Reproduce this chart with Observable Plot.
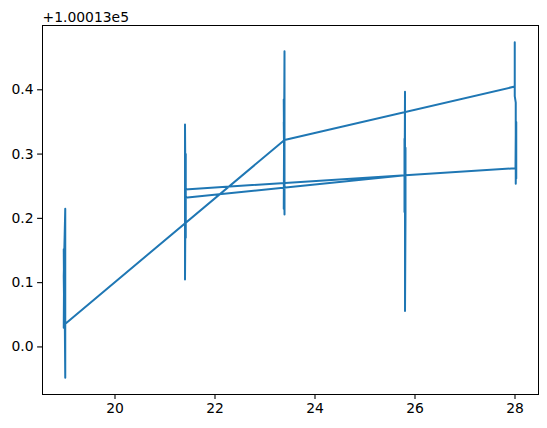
<!DOCTYPE html>
<html>
<head>
<meta charset="utf-8">
<script src="https://cdn.jsdelivr.net/npm/d3@7"></script>
<script src="https://cdn.jsdelivr.net/npm/@observablehq/plot@0.6"></script>
<style>
  html, body { margin: 0; padding: 0; background: white; }
  #chart svg { display: block; }
</style>
</head>
<body>
<div id="chart"></div>
<script>
// Offset label (matplotlib-style): values shown are value - 100013
const offsetLabel = "+1.00013e5";
const xTicks = [20, 22, 24, 26, 28];
const yTicks = [0.0, 0.1, 0.2, 0.3, 0.4];

// Path of the series in drawing order (x, y offset from 100013)
const xs = [
  18.985, 18.975, 18.985, 18.975, 19.005, 19.005, 18.985, 18.975, 18.985, 18.99,
  23.39, 23.39, 23.375, 23.39, 23.39, 23.375, 23.39, 23.375, 23.39,
  27.995, 27.995, 27.995, 28.015, 28.015, 28.025, 28.025, 28.015, 28.01,
  21.4, 21.415, 21.415, 21.4, 21.4, 21.415, 21.4, 21.415, 21.4,
  25.8, 25.79, 25.79, 25.8, 25.8, 25.81, 25.81, 25.8
];
const ys = [
  0.083, 0.152, 0.045, 0.110, 0.215, -0.048, 0.150, 0.030, 0.090, 0.035,
  0.322, 0.410, 0.215, 0.460, 0.206, 0.385, 0.250, 0.350, 0.322,
  0.405, 0.474, 0.390, 0.380, 0.254, 0.350, 0.262, 0.330, 0.278,
  0.245, 0.300, 0.170, 0.346, 0.105, 0.290, 0.175, 0.260, 0.232,
  0.267, 0.324, 0.210, 0.397, 0.056, 0.206, 0.310, 0.280
];

const points = xs.map((x, i) => ({x, y: ys[i], i}));

const plot = Plot.plot({
  width: 547,
  height: 428,
  marginLeft: 42,
  marginRight: 9,
  marginTop: 25,
  marginBottom: 34,
  style: {fontFamily: "DejaVu Sans", fontSize: "13.9px", color: "black", background: "white"},
  x: {domain: [18.55, 28.47], label: null},
  y: {domain: [-0.074, 0.500], label: null},
  marks: [
    Plot.line(points, {x: "x", y: "y", stroke: "#1f77b4", strokeWidth: 2, strokeLinejoin: "round", strokeLinecap: "square", sort: null}),
    Plot.frame({stroke: "black", strokeWidth: 1}),
    Plot.axisX({ticks: xTicks, tickSize: 4.9, tickPadding: 4, tickFormat: d => String(d), label: null, fontSize: 13.9, strokeWidth: 1.1}),
    Plot.axisY({ticks: yTicks, tickSize: 4.9, tickPadding: 4, tickFormat: d => d.toFixed(1), label: null, fontSize: 13.9, strokeWidth: 1.1}),
    Plot.text([offsetLabel], {text: d => d, frameAnchor: "top-left", textAnchor: "start", lineAnchor: "bottom", dy: -4, fontSize: 13.9, fill: "black"})
  ]
});
document.getElementById("chart").appendChild(plot);
</script>
</body>
</html>
